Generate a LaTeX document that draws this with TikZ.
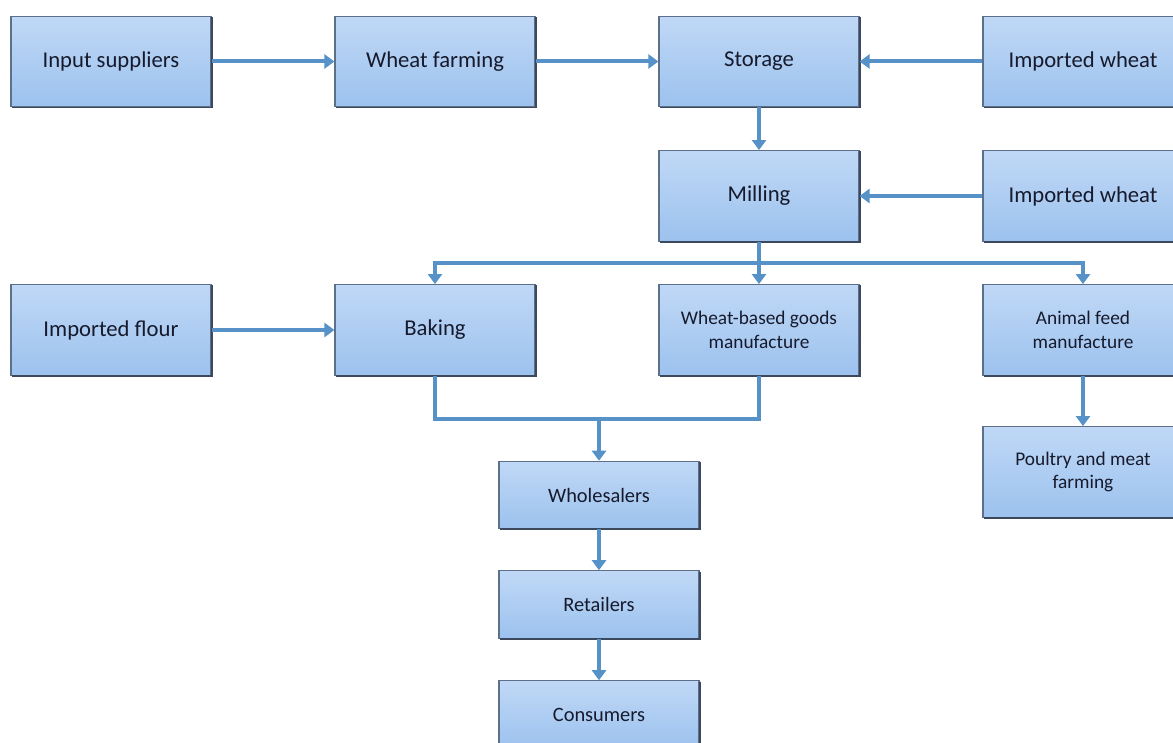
\documentclass[tikz,border=0pt]{standalone}
\usepackage{fontspec}
\setmainfont{Carlito}
\usetikzlibrary{arrows.meta}
\definecolor{boxtop}{RGB}{192,216,246}
\definecolor{boxbot}{RGB}{156,194,238}
\definecolor{boxedge}{RGB}{92,112,140}
\definecolor{boxdark}{RGB}{60,72,92}
\definecolor{txt}{RGB}{22,26,44}
\definecolor{arrc}{RGB}{86,145,200}
\tikzset{
  box/.style={rectangle, minimum width=150pt, minimum height=68pt, top color=boxtop, bottom color=boxbot, draw=boxedge, line width=0.9pt, text=txt, align=center, inner sep=2pt, font=\fontsize{17}{20}\selectfont},
  bigbox/.style={box},
  smallbox/.style={box, font=\fontsize{14.5}{17.5}\selectfont},
  lowbox/.style={box, minimum height=50.5pt, font=\fontsize{15.3}{18}\selectfont},
  bevel/.style={draw=boxdark, line width=1.4pt},
  conn/.style={draw=arrc, line width=3pt},
  arr/.style={conn, -{Triangle[width=10.5pt,length=7.5pt]}},
}
\begin{document}
\begin{tikzpicture}[x=0.75pt,y=-0.75pt]
\useasboundingbox (0,0) rectangle (1173,742);
\clip (0,0) rectangle (1173,742);
% nodes
\node[bigbox] (input) at (111,61.5) {Input suppliers};
\node[bigbox] (farm) at (435,61.5) {Wheat farming};
\node[bigbox] (stor) at (759,61.5) {Storage};
\node[bigbox] (imp1) at (1083,61.5) {Imported wheat};
\node[bigbox] (mill) at (759,196) {Milling};
\node[bigbox] (imp2) at (1083,196) {Imported wheat};
\node[bigbox] (flour) at (111,330) {Imported flour};
\node[bigbox] (bake) at (435,330) {Baking};
\node[smallbox] (wbg) at (759,330) {Wheat-based goods\\manufacture};
\node[smallbox] (feed) at (1083,330) {Animal feed\\manufacture};
\node[smallbox] (poul) at (1083,472) {Poultry and meat\\farming};
\node[lowbox] (whole) at (599,495) {Wholesalers};
\node[lowbox] (ret) at (599,604.5) {Retailers};
\node[lowbox] (cons) at (599,714.5) {Consumers};
% bevel shading on bottom and right edges
\foreach \n in {input,farm,stor,imp1,mill,imp2,flour,bake,wbg,feed,poul,whole,ret,cons}
  \draw[bevel] ([xshift=1pt]\n.south west) -- (\n.south east) -- ([yshift=-1pt]\n.north east);
% connectors
\draw[arr] (input) -- (farm);
\draw[arr] (farm) -- (stor);
\draw[arr] (imp1) -- (stor);
\draw[arr] (stor) -- (mill);
\draw[arr] (imp2) -- (mill);
\draw[arr] (flour) -- (bake);
\coordinate (split) at (759,263);
\draw[conn] (mill.south) -- (split);
\draw[arr] (split) -| (bake.north);
\draw[arr] (split) -- (wbg.north);
\draw[arr] (split) -| (feed.north);
\coordinate (join) at (599,419);
\draw[conn] (bake.south) |- (join);
\draw[conn] (wbg.south) |- (join);
\draw[arr] (join) -- (whole.north);
\draw[arr] (whole) -- (ret);
\draw[arr] (ret) -- (cons);
\draw[arr] (feed) -- (poul);
\end{tikzpicture}
\end{document}
